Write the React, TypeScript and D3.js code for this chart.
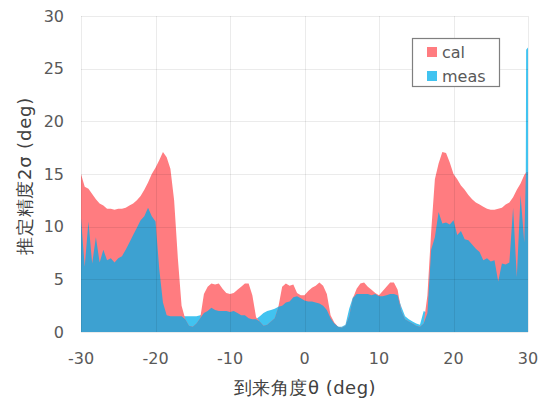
import React, { useEffect, useRef } from "react";
import * as d3 from "d3";

// arrival angle grid (deg): 0.5 deg steps, denser just before the +30 edge
const theta = d3.range(-30, 29.75, 0.5).concat([29.7, 29.75, 30]);

// estimated accuracy 2σ (deg)
const calValues = [
  15.0, 13.8, 13.6, 13.1, 12.6, 12.2, 12.0, 11.7, 11.7, 11.6,
  11.7, 11.7, 11.8, 12.0, 12.2, 12.5, 12.9, 13.5, 14.2, 15.0,
  15.6, 16.3, 17.1, 16.6, 15.5, 12.5, 7.0, 2.5, 1.2, 0.6,
  0.5, 0.8, 1.3, 3.6, 4.3, 4.6, 4.5, 4.6, 4.1, 3.7,
  3.6, 3.7, 4.0, 4.3, 4.6, 4.6, 3.5, 1.4, 1.0, 0.6,
  0.7, 1.0, 1.3, 2.4, 4.3, 4.6, 4.4, 4.5, 3.7, 3.5,
  3.5, 3.9, 4.2, 4.4, 4.7, 4.4, 3.6, 1.6, 0.9, 0.5,
  0.4, 0.6, 1.5, 3.2, 4.1, 4.6, 4.7, 4.3, 4.0, 3.7,
  3.5, 3.9, 4.3, 4.7, 4.7, 4.0, 2.0, 1.2, 1.0, 0.8,
  0.6, 0.5, 0.8, 3.5, 9.5, 14.5, 16.0, 17.1, 17.0, 16.1,
  15.0, 14.5, 13.9, 13.5, 13.0, 12.6, 12.3, 12.1, 11.9, 11.7,
  11.6, 11.6, 11.7, 11.8, 12.1, 12.3, 12.8, 13.5, 14.1, 14.9,
  15.1, 15.2, 15.2,
];

const measValues = [
  10.8, 6.2, 10.5, 6.5, 9.0, 6.6, 7.8, 6.8, 7.0, 6.6,
  7.0, 7.2, 7.8, 8.5, 9.2, 9.9, 10.6, 11.0, 11.8, 11.0,
  10.5, 6.0, 2.8, 1.6, 1.5, 1.5, 1.5, 1.5, 1.5, 1.5,
  1.5, 1.5, 1.6, 1.8, 2.0, 2.3, 2.1, 2.0, 2.0, 2.0,
  1.9, 2.0, 1.8, 1.6, 1.6, 1.3, 1.2, 1.2, 1.5, 1.8,
  2.0, 2.1, 2.2, 2.4, 2.5, 2.8, 2.9, 3.3, 3.4, 3.2,
  3.0, 2.9, 2.9, 2.8, 2.7, 2.5, 2.1, 1.3, 0.8, 0.5,
  0.5, 0.7, 2.2, 3.3, 3.6, 3.6, 3.6, 3.6, 3.5, 3.6,
  3.4, 3.4, 3.5, 3.6, 3.6, 3.5, 2.4, 1.5, 1.2, 1.0,
  0.8, 0.7, 2.0, 1.8, 7.8, 9.0, 11.4, 10.3, 10.4, 10.2,
  10.6, 9.2, 9.6, 8.8, 8.7, 8.3, 7.9, 7.6, 6.8, 7.0,
  6.7, 6.8, 4.8, 6.5, 6.4, 6.6, 11.8, 5.2, 13.0, 8.5,
  14.6, 26.8, 27.0,
];

const xTicks = [-30, -20, -10, 0, 10, 20, 30];
const yTicks = [0, 5, 10, 15, 20, 25, 30];
const seriesNames = ["cal", "meas"];

const W = 544;
const H = 401;
const margin = { top: 16, right: 16, bottom: 69, left: 81 };

const calColor = "#FF7C80";
const measColor = "#41C3F0";
const bothColor = "#3DA1D1";
const font = "'DejaVu Sans', Verdana, sans-serif";

const App = () => {
  const svgRef = useRef<SVGSVGElement>(null);

  useEffect(() => {
    const svg = d3.select(svgRef.current);
    svg.selectAll("*").remove();

    const x = d3.scaleLinear().domain([-30, 30]).range([margin.left, W - margin.right]);
    const y = d3.scaleLinear().domain([0, 30]).range([H - margin.bottom, margin.top]);

    const rows = theta.map((t, i) => ({ t, cal: calValues[i], meas: measValues[i] }));

    const area = (acc) =>
      d3.area<any>()
        .x(d => x(d.t))
        .y0(y(0))
        .y1(d => y(acc(d)))
        .curve(d3.curveLinear);

    // meas only, then cal on top, then the overlap part in the darker blue
    svg.append("path").datum(rows).attr("d", area(d => d.meas)).attr("fill", measColor);
    svg.append("path").datum(rows).attr("d", area(d => d.cal)).attr("fill", calColor);
    svg.append("path").datum(rows).attr("d", area(d => Math.min(d.cal, d.meas))).attr("fill", bothColor);

    // gridlines drawn over the areas (they show faintly through)
    const grid = svg.append("g").attr("stroke", "#000").attr("stroke-opacity", 0.08).attr("stroke-width", 1);
    grid.selectAll("line.h")
      .data(yTicks)
      .enter()
      .append("line")
      .attr("x1", margin.left)
      .attr("x2", W - margin.right)
      .attr("y1", d => Math.round(y(d)) + 0.5)
      .attr("y2", d => Math.round(y(d)) + 0.5);
    grid.selectAll("line.v")
      .data(xTicks)
      .enter()
      .append("line")
      .attr("y1", margin.top)
      .attr("y2", H - margin.bottom)
      .attr("x1", d => Math.round(x(d)) + 0.5)
      .attr("x2", d => Math.round(x(d)) + 0.5);

    // tick labels
    svg.append("g")
      .selectAll("text")
      .data(yTicks)
      .enter()
      .append("text")
      .attr("x", margin.left - 17)
      .attr("y", d => y(d))
      .attr("dy", "0.36em")
      .attr("text-anchor", "end")
      .style("font-family", font)
      .style("font-size", "16px")
      .attr("fill", "#595959")
      .text(d => d);

    svg.append("g")
      .selectAll("text")
      .data(xTicks)
      .enter()
      .append("text")
      .attr("x", d => x(d))
      .attr("y", H - margin.bottom + 26)
      .attr("dy", "0.36em")
      .attr("text-anchor", "middle")
      .style("font-family", font)
      .style("font-size", "16px")
      .attr("fill", "#595959")
      .text(d => d);

    // axis titles
    svg.append("text")
      .attr("x", 305)
      .attr("y", 388)
      .attr("dy", "0.36em")
      .attr("text-anchor", "middle")
      .style("font-family", font)
      .style("font-size", "18px")
      .style("letter-spacing", "0.5px")
      .attr("fill", "#404040")
      .text("到来角度θ (deg)");

    svg.append("text")
      .attr("transform", "translate(25,176) rotate(-90)")
      .attr("dy", "0.36em")
      .attr("text-anchor", "middle")
      .style("font-family", font)
      .style("font-size", "18px")
      .style("letter-spacing", "0.8px")
      .attr("fill", "#404040")
      .text("推定精度2σ (deg)");

    // legend
    const legend = svg.append("g");
    legend.append("rect")
      .attr("x", 412.5)
      .attr("y", 38.5)
      .attr("width", 87)
      .attr("height", 48)
      .attr("fill", "#fff")
      .attr("stroke", "#7f7f7f")
      .attr("stroke-width", 1.2);
    const colors = [calColor, measColor];
    const item = legend.selectAll("g.item")
      .data(seriesNames)
      .enter()
      .append("g")
      .attr("transform", (d, i) => `translate(427,${52 + i * 24})`);
    item.append("rect")
      .attr("x", 0)
      .attr("y", -5)
      .attr("width", 10)
      .attr("height", 10)
      .attr("fill", (d, i) => colors[i]);
    item.append("text")
      .attr("x", 15)
      .attr("dy", "0.36em")
      .style("font-family", font)
      .style("font-size", "16px")
      .attr("fill", "#595959")
      .text(d => d);
  }, []);

  return (
    <svg
      ref={svgRef}
      width={W}
      height={H}
      style={{ position: "absolute", left: 0, top: 0, background: "#fff" }}
    />
  );
};

export default App;
